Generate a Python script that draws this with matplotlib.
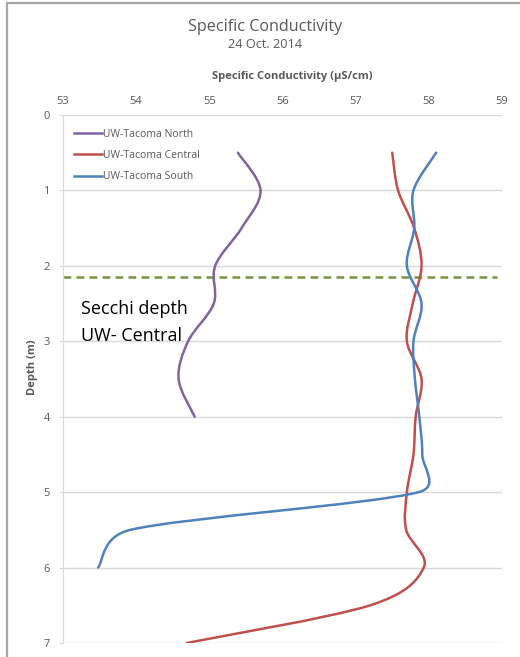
import matplotlib.pyplot as plt
import numpy as np
from matplotlib.path import Path
from matplotlib.patches import PathPatch, Rectangle
from matplotlib.lines import Line2D

# depth (m) and specific conductivity (uS/cm)
depth_north = [0.5, 1.0, 1.5, 2.0, 2.5, 3.0, 3.5, 4.0]
cond_north = [55.39, 55.70, 55.44, 55.08, 55.06, 54.71, 54.58, 54.80]

depth_central = [0.5, 1.0, 1.5, 2.0, 2.5, 3.0, 3.5, 4.0, 4.5, 5.0, 5.5, 6.0, 6.5, 7.0]
cond_central = [57.50, 57.58, 57.80, 57.90, 57.78, 57.70, 57.90, 57.82, 57.79, 57.70,
                57.69, 57.93, 57.20, 54.69]

depth_south = [0.5, 1.0, 1.5, 2.0, 2.5, 3.0, 3.5, 4.0, 4.5, 5.0, 5.5, 6.0]
cond_south = [58.10, 57.79, 57.80, 57.70, 57.90, 57.79, 57.81, 57.87, 57.91, 57.86,
              53.92, 53.48]

secchi_depth = 2.15
x_ticks = [53, 54, 55, 56, 57, 58, 59]
y_ticks = [0, 1, 2, 3, 4, 5, 6, 7]

GRAY = '#595959'
FONT = 'Open Sans'


def smooth_path(ax, xs, ys):
    # excel style smoothed line, bezier through every point (worked out in pixels)
    p = ax.transData.transform(np.column_stack([xs, ys]))
    n = len(p)
    verts = [p[0]]
    codes = [Path.MOVETO]
    for i in range(n - 1):
        p0 = p[i - 1] if i > 0 else p[i]
        p3 = p[i + 2] if i + 2 < n else p[i + 1]
        seg = np.hypot(*(p[i + 1] - p[i]))
        t1 = (p[i + 1] - p0) / 6.0
        t2 = (p3 - p[i]) / 6.0
        # keep handles short so the curve does not swing far past the points
        lim = seg * 0.6
        for t in (t1, t2):
            ln = np.hypot(*t)
            if ln > lim:
                t *= lim / ln
        verts += [p[i] + t1, p[i + 1] - t2, p[i + 1]]
        codes += [Path.CURVE4] * 3
    verts = ax.transData.inverted().transform(np.array(verts))
    return Path(verts, codes)


fig = plt.figure(figsize=(5.2, 6.57), dpi=100)
ax = fig.add_axes([63 / 520, 1 - 643 / 657, (502 - 63) / 520, (643 - 115) / 657])
ax.set_xlim(53, 59)
ax.set_ylim(7, 0)

series = [
    ('UW-Tacoma North', cond_north, depth_north, '#8064A2'),
    ('UW-Tacoma Central', cond_central, depth_central, '#C0504D'),
    ('UW-Tacoma South', cond_south, depth_south, '#4F81BD'),
]
handles = []
for name, xs, ys, col in series:
    ax.add_patch(PathPatch(smooth_path(ax, xs, ys), facecolor='none', edgecolor=col,
                           lw=1.8, capstyle='round', zorder=3))
    handles.append(Line2D([], [], color=col, lw=1.8, label=name))

ax.axhline(secchi_depth, xmin=0, xmax=(497 - 63) / 439, color='#77933C', lw=1.8,
           ls=(0, (3.1, 2.1)), zorder=2)
ax.text(53.25, 2.75, 'Secchi depth\nUW- Central', fontsize=13, family=FONT,
        va='center', ha='left', linespacing=1.6, color='black')

ax.set_xticks(x_ticks)
ax.set_yticks(y_ticks)
ax.xaxis.tick_top()
ax.xaxis.set_label_position('top')
ax.tick_params(axis='x', length=0, pad=6, labelsize=8, labelcolor=GRAY)
ax.tick_params(axis='y', length=3, color='#D9D9D9', pad=6.5, labelsize=8, labelcolor=GRAY)
for lbl in ax.get_xticklabels() + ax.get_yticklabels():
    lbl.set_family(FONT)
ax.set_xlabel('Specific Conductivity (µS/cm)', fontsize=8, fontweight='bold',
              color=GRAY, family=FONT)
ax.xaxis.set_label_coords((292 - 63) / 439, 1 + (115 - 77) / 528)
ax.xaxis.label.set_va('center')
ax.set_ylabel('Depth (m)', fontsize=8, fontweight='bold', color=GRAY, family=FONT)
ax.yaxis.set_label_coords((33 - 63) / 439, (643 - 367) / 528)
ax.yaxis.label.set_va('center')
ax.grid(axis='y', color='#D9D9D9', lw=1)
ax.set_axisbelow(True)
for s in ['top', 'right', 'bottom']:
    ax.spines[s].set_visible(False)
ax.spines['left'].set_color('#D9D9D9')

leg = ax.legend(handles=handles, loc='upper left', bbox_to_anchor=(-0.006, 1.0),
                borderaxespad=0, frameon=False, handlelength=2.7,
                handletextpad=0.05, labelspacing=1.0, borderpad=1.3,
                prop={'family': FONT, 'size': 7.5})
for t in leg.get_texts():
    t.set_color(GRAY)

fig.text(265 / 520, 1 - 27 / 657, 'Specific Conductivity', ha='center', va='center',
         fontsize=11.6, color=GRAY, family=FONT)
fig.text(265 / 520, 1 - 45 / 657, '24 Oct. 2014', ha='center', va='center',
         fontsize=9.2, color=GRAY, family=FONT)

fig.patches.append(Rectangle((7 / 520, -0.05), 1.1, 1.05 - 3 / 657, transform=fig.transFigure,
                             fill=False, edgecolor='#A6A6A6', lw=1.6))

fig.savefig('out.png', dpi=100)
